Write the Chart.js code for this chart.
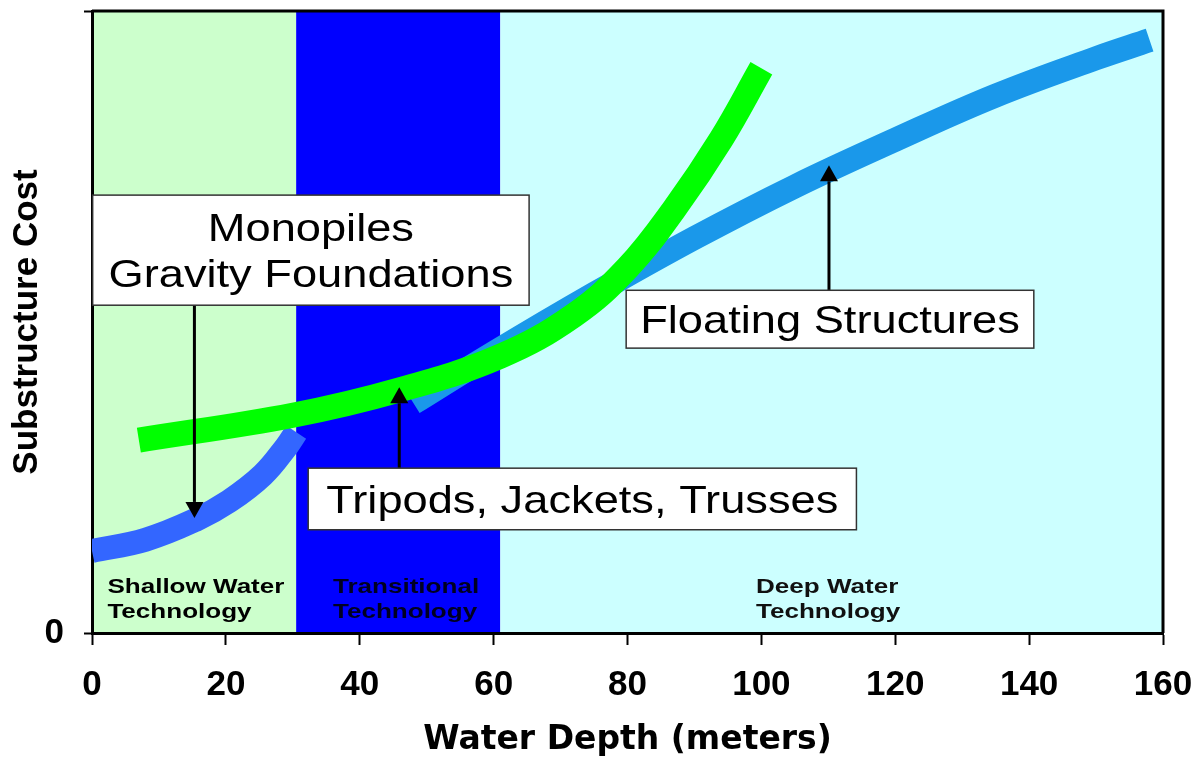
<!DOCTYPE html>
<html>
<head>
<meta charset="utf-8">
<title>Substructure Cost vs Water Depth</title>
<script src="https://cdn.jsdelivr.net/npm/chart.js@4.4.1/dist/chart.umd.min.js"></script>
<style>
  html, body { margin: 0; padding: 0; background: #fff; }
  #wrap { position: relative; width: 1202px; height: 761px; }
</style>
</head>
<body>
<div id="wrap"><canvas id="costChart"></canvas></div>
<script>
// water depth (m) against relative substructure cost
const monopileDepth = [0, 8, 15.5, 20.5, 25.5, 29, 30.5];
const monopileCost = [13.2, 15, 18.2, 21.2, 25.4, 29.9, 32.3];

const jacketDepth = [7, 30, 46, 61, 72, 80, 87, 94, 100];
const jacketCost = [31, 35, 39.1, 44.5, 51.1, 58.7, 68.2, 79.4, 90.8];

const floatingDepth = [48, 60, 75, 90, 105, 120, 135, 150, 158];
const floatingCost = [37, 45, 54.5, 63.5, 71.8, 79.3, 86.4, 92.4, 95.3];

const xTicks = [0, 20, 40, 60, 80, 100, 120, 140, 160];
const yTicks = [0, 100]; // only the 0 gets a label

// technology zones along the depth axis
const zoneStart = [0, 30.5, 61];
const zoneEnd = [30.5, 61, 160];
const zoneNames = [['Shallow Water', 'Technology'], ['Transitional', 'Technology'], ['Deep Water', 'Technology']];

// zone look
const zoneFill = ['#ccffcc', '#0000ff', '#ccffff'];
const zoneInk = ['#000', '#000022', '#111'];
const zoneLabelX = [2.3, 36.0, 99.2];

// callout boxes (data units) and their arrows
const callouts = [
  { lines: ['Monopiles', 'Gravity Foundations'], left: 0.1, right: 65.3, top: 70.4, bottom: 52.7, arrowX: 15.3, tip: 18.5 },
  { lines: ['Tripods, Jackets, Trusses'], left: 32.3, right: 114.2, top: 26.5, bottom: 16.6, arrowX: 45.9, tip: 39.5 },
  { lines: ['Floating Structures'], left: 79.8, right: 140.7, top: 55.1, bottom: 45.8, arrowX: 110.1, tip: 75.2 },
];

const SANS = '"Liberation Sans", Arial, sans-serif';

function toPoints(xs, ys) {
  return xs.map((x, i) => ({ x: x, y: ys[i] }));
}

// the source picture is a bit wide, so stretch text horizontally
function stretchText(ctx, text, px, py, sx, align) {
  ctx.save();
  ctx.translate(px, py);
  ctx.scale(sx, 1);
  ctx.textAlign = align;
  ctx.fillText(text, 0, 0);
  ctx.restore();
}

const zonesPlugin = {
  id: 'zones',
  beforeDraw(chart) {
    const { ctx, chartArea: a, scales: { x } } = chart;
    ctx.save();
    zoneStart.forEach((s, i) => {
      const x1 = x.getPixelForValue(s);
      const x2 = x.getPixelForValue(zoneEnd[i]);
      ctx.fillStyle = zoneFill[i];
      ctx.fillRect(x1, a.top, x2 - x1, a.bottom - a.top);
    });
    ctx.font = 'bold 21px ' + SANS;
    ctx.textBaseline = 'alphabetic';
    zoneNames.forEach((lines, i) => {
      ctx.fillStyle = zoneInk[i];
      lines.forEach((t, j) => {
        stretchText(ctx, t, x.getPixelForValue(zoneLabelX[i]), a.bottom - 40 + j * 25, 1.24, 'left');
      });
    });
    ctx.restore();
  }
};

const calloutPlugin = {
  id: 'callouts',
  afterDatasetsDraw(chart) {
    const { ctx, chartArea: a, scales: { x, y } } = chart;
    ctx.save();

    // frame on top and right
    ctx.strokeStyle = '#000';
    ctx.lineWidth = 3;
    ctx.beginPath();
    ctx.moveTo(a.left, a.top);
    ctx.lineTo(a.right, a.top);
    ctx.lineTo(a.right, a.bottom);
    ctx.stroke();

    callouts.forEach(c => {
      const l = x.getPixelForValue(c.left), r = x.getPixelForValue(c.right);
      const t = y.getPixelForValue(c.top), b = y.getPixelForValue(c.bottom);
      const ax = x.getPixelForValue(c.arrowX);
      const tipY = y.getPixelForValue(c.tip);
      const down = tipY > b;
      const fromY = down ? b : t;
      const baseY = down ? tipY - 16 : tipY + 16;

      // arrow shaft + head
      ctx.strokeStyle = '#000';
      ctx.lineWidth = 3;
      ctx.beginPath();
      ctx.moveTo(ax, fromY);
      ctx.lineTo(ax, baseY);
      ctx.stroke();
      ctx.fillStyle = '#000';
      ctx.beginPath();
      ctx.moveTo(ax, tipY);
      ctx.lineTo(ax - 9, baseY);
      ctx.lineTo(ax + 9, baseY);
      ctx.closePath();
      ctx.fill();

      // box
      ctx.fillStyle = '#fff';
      ctx.fillRect(l, t, r - l, b - t);
      ctx.strokeStyle = '#333';
      ctx.lineWidth = 1.5;
      ctx.strokeRect(l, t, r - l, b - t);

      // text
      ctx.fillStyle = '#000';
      ctx.font = '39px ' + SANS;
      ctx.textBaseline = 'alphabetic';
      const cx = (l + r) / 2, cy = (t + b) / 2;
      c.lines.forEach((line, i) => {
        const by = cy + (i - (c.lines.length - 1) / 2) * 46 + 14;
        stretchText(ctx, line, cx, by, 1.16, 'center');
      });
    });
    ctx.restore();
  }
};

const ctx = document.getElementById('costChart').getContext('2d');

const costChart = new Chart(ctx, {
  type: 'line',
  data: {
    datasets: [
      {
        label: 'Tripods, Jackets, Trusses',
        data: toPoints(jacketDepth, jacketCost),
        borderColor: '#00ff00',
        borderWidth: 25,
        order: 0,
      },
      {
        label: 'Floating Structures',
        data: toPoints(floatingDepth, floatingCost),
        borderColor: '#1a98ea',
        borderWidth: 24,
        order: 1,
      },
      {
        label: 'Monopiles / Gravity Foundations',
        data: toPoints(monopileDepth, monopileCost),
        borderColor: '#3366ff',
        borderWidth: 24,
        order: 2,
      },
    ],
  },
  options: {
    responsive: true,
    maintainAspectRatio: false,
    animation: false,
    events: [],
    layout: { padding: { top: 11, right: 39, left: 0, bottom: 0 } },
    elements: {
      line: { tension: 0.4, borderCapStyle: 'butt', fill: false },
      point: { radius: 0 },
    },
    plugins: {
      legend: { display: false },
      tooltip: { enabled: false },
    },
    scales: {
      x: {
        type: 'linear',
        min: 0,
        max: 160,
        afterBuildTicks: s => { s.ticks = xTicks.map(v => ({ value: v })); },
        afterFit: s => {
          s.height = 128;
          s.paddingLeft = 0;
          s.paddingRight = 0;
        },
        ticks: {
          color: '#000',
          font: { family: SANS, size: 35, weight: 'bold' },
          padding: 19,
          maxRotation: 0,
          autoSkip: false,
        },
        grid: { drawOnChartArea: false, tickLength: 12, tickColor: '#000', tickWidth: 2 },
        border: { color: '#000', width: 3 },
        title: {
          display: true,
          text: 'Water Depth (meters)',
          color: '#000',
          font: { family: '"DejaVu Sans", sans-serif', size: 33, weight: 'bold' },
          padding: 1,
        },
      },
      y: {
        type: 'linear',
        min: 0,
        max: 100,
        afterBuildTicks: s => { s.ticks = yTicks.map(v => ({ value: v })); },
        afterFit: s => {
          s.width = 92;
          s.paddingTop = 0;
          s.paddingBottom = 0;
        },
        ticks: {
          color: '#000',
          font: { family: SANS, size: 35, weight: 'bold' },
          padding: 20,
          callback: v => (v === 0 ? '0' : ''),
        },
        grid: { drawOnChartArea: false, tickLength: 8, tickColor: '#000', tickWidth: 2 },
        border: { color: '#000', width: 3 },
        title: {
          display: true,
          text: 'Substructure Cost',
          color: '#000',
          font: { family: SANS, size: 35, weight: 'bold' },
          padding: 6,
        },
      },
    },
  },
  plugins: [zonesPlugin, calloutPlugin],
});
</script>
</body>
</html>
